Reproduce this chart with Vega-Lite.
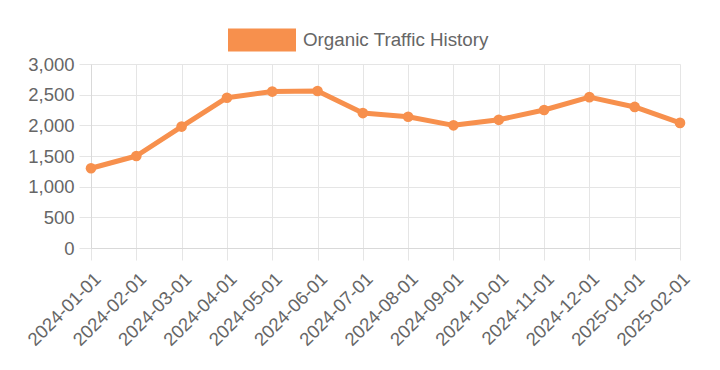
{
  "$schema": "https://vega.github.io/schema/vega-lite/v6.json",
  "autosize": {"type": "none"},
  "width": 589,
  "height": 184,
  "padding": {"left": 91, "top": 64, "right": 40, "bottom": 122},
  "background": "white",
  "config": {
    "font": "Liberation Sans",
    "view": {"stroke": null},
    "axis": {
      "labelFont": "Liberation Sans",
      "labelFontSize": 18.5,
      "labelColor": "#666666",
      "gridColor": "#e5e5e5",
      "gridWidth": 1,
      "tickColor": "#e5e5e5",
      "tickSize": 12,
      "domainColor": "#d9d9d9",
      "title": null
    }
  },
  "data": {
    "values": [
      {"date": "2024-01-01", "traffic": 1300, "series": "Organic Traffic History"},
      {"date": "2024-02-01", "traffic": 1500, "series": "Organic Traffic History"},
      {"date": "2024-03-01", "traffic": 1980, "series": "Organic Traffic History"},
      {"date": "2024-04-01", "traffic": 2450, "series": "Organic Traffic History"},
      {"date": "2024-05-01", "traffic": 2550, "series": "Organic Traffic History"},
      {"date": "2024-06-01", "traffic": 2560, "series": "Organic Traffic History"},
      {"date": "2024-07-01", "traffic": 2200, "series": "Organic Traffic History"},
      {"date": "2024-08-01", "traffic": 2140, "series": "Organic Traffic History"},
      {"date": "2024-09-01", "traffic": 2000, "series": "Organic Traffic History"},
      {"date": "2024-10-01", "traffic": 2090, "series": "Organic Traffic History"},
      {"date": "2024-11-01", "traffic": 2250, "series": "Organic Traffic History"},
      {"date": "2024-12-01", "traffic": 2460, "series": "Organic Traffic History"},
      {"date": "2025-01-01", "traffic": 2300, "series": "Organic Traffic History"},
      {"date": "2025-02-01", "traffic": 2040, "series": "Organic Traffic History"}
    ]
  },
  "encoding": {
    "x": {
      "field": "date",
      "type": "ordinal",
      "sort": null,
      "scale": {"type": "point", "padding": 0},
      "axis": {
        "labelAngle": -45,
        "labelAlign": "right",
        "labelBaseline": "top",
        "labelPadding": 9,
        "grid": true,
        "domain": true
      }
    },
    "y": {
      "field": "traffic",
      "type": "quantitative",
      "scale": {"domain": [0, 3000], "nice": false},
      "axis": {
        "values": [0, 500, 1000, 1500, 2000, 2500, 3000],
        "format": ",.0f",
        "labelPadding": 5,
        "grid": true,
        "domain": true
      }
    },
    "color": {
      "field": "series",
      "type": "nominal",
      "scale": {"range": ["#F7904D"]},
      "legend": {
        "orient": "none",
        "legendX": 137,
        "legendY": -58,
        "title": null,
        "padding": 0,
        "symbolType": "M-1,-0.338h2v0.676h-2z",
        "symbolSize": 4624,
        "symbolFillColor": "#F7904D",
        "symbolStrokeColor": "#F7904D",
        "symbolStrokeWidth": 0,
        "symbolOpacity": 1,
        "labelFontSize": 18.8,
        "labelColor": "#666666",
        "labelOffset": 7,
        "labelLimit": 400
      }
    }
  },
  "layer": [
    {"mark": {"type": "line", "strokeWidth": 5, "strokeJoin": "round"}},
    {"mark": {"type": "point", "filled": true, "size": 113, "opacity": 1}}
  ]
}
